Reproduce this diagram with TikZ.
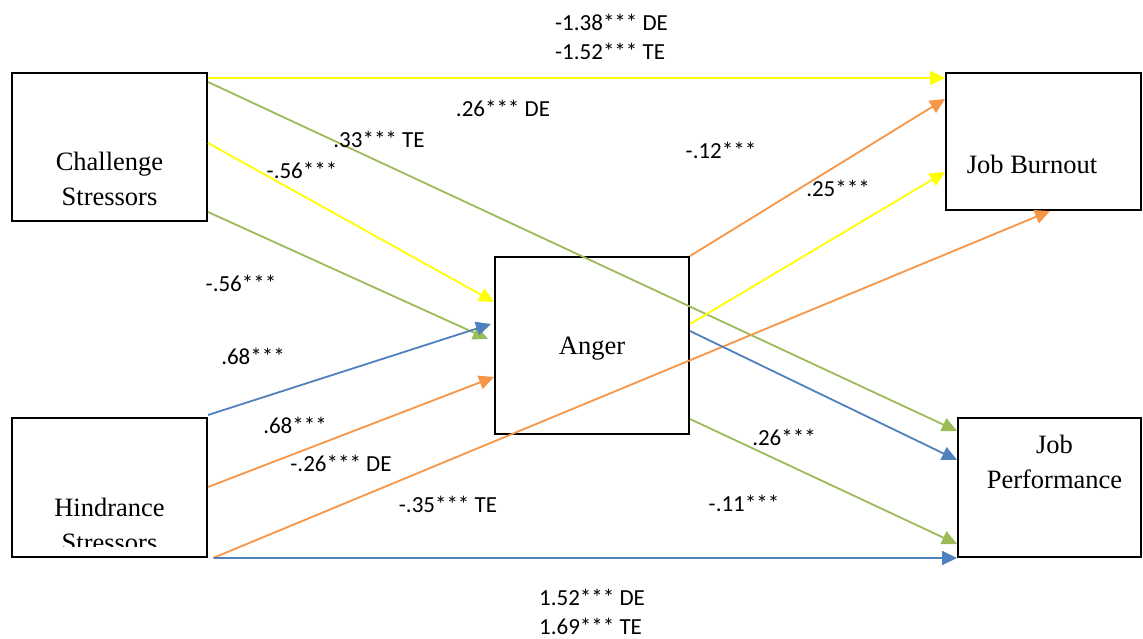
\documentclass[tikz,border=0pt]{standalone}
\usepackage{fontspec}
\setmainfont{Liberation Serif}
\newfontfamily\labfont{Carlito}
\usetikzlibrary{arrows.meta}
\definecolor{cyel}{HTML}{FFFF00}
\definecolor{cgrn}{HTML}{9BBB59}
\definecolor{corg}{HTML}{F79646}
\definecolor{cblu}{HTML}{4F81BD}
\begin{document}
\begin{tikzpicture}[x=1pt,y=-1pt,
  box/.style={draw=black, line width=2pt, rectangle, inner sep=0pt},
  boxtext/.style={font=\fontsize{26.5}{35}\selectfont, align=center, inner sep=0pt},
  lbl/.style={font=\labfont\fontsize{23}{29}\selectfont, inner sep=0pt, align=left},
  conn/.style={line width=1.8pt, -{Triangle[length=15pt,width=14pt]}},
]
\useasboundingbox (0,0) rectangle (1143,639);
\fill[white] (0,0) rectangle (1143,639);

% boxes
\node[box, minimum width=195pt, minimum height=148pt,
      label={[boxtext, yshift=-32pt, name=chal-t]center:{Challenge\\Stressors}}] (chal) at (109.5,147) {};
\node[box, minimum width=195pt, minimum height=139pt] (hind) at (109.5,487.5) {};
\begin{scope}
  \clip (hind.north west) rectangle ([yshift=12pt]hind.south east);
  \node[boxtext] (hind-t) at (109.5,524.5) {Hindrance\\Stressors};
\end{scope}
\node[box, minimum width=194pt, minimum height=177pt,
      label={[boxtext, yshift=-3.5pt, name=anger-t]center:{Anger}}] (anger) at (592,345.5) {};
\node[box, minimum width=195pt, minimum height=137pt,
      label={[boxtext, xshift=-11.5pt, yshift=-22.5pt, name=burn-t]center:{Job Burnout}}] (burn) at (1043.5,141.5) {};
\node[box, minimum width=183pt, minimum height=139pt,
      label={[boxtext, xshift=5pt, yshift=26pt, name=perf-t]center:{Job\\Performance}}] (perf) at (1049.5,487.5) {};

% connectors
\draw[conn, draw=cyel] ([yshift=-6pt]chal.north east) -- ([yshift=-6pt]burn.north west);
\draw[conn, draw=cgrn] ([yshift=-10pt]chal.north east) -- ([yshift=-14pt]perf.north west);
\draw[conn, draw=cyel] ([yshift=-71pt]chal.north east) -- ([yshift=-46pt]anger.north west);
\draw[conn, draw=cgrn] ([yshift=10pt]chal.south east) -- ([xshift=-6pt,yshift=-83pt]anger.north west);
\draw[conn, draw=cblu] ([yshift=2pt]hind.north east) -- ([xshift=-3pt,yshift=-68pt]anger.north west);
\draw[conn, draw=corg] ([yshift=-70pt]hind.north east) -- ([yshift=-121pt]anger.north west);
\draw[conn, draw=corg] ([xshift=5pt]hind.south east) -- ([xshift=105pt]burn.south west);
\draw[conn, draw=cblu] ([xshift=6pt]hind.south east) -- (perf.south west);
\draw[conn, draw=corg] (anger.north east) -- ([yshift=-27pt]burn.north west);
\draw[conn, draw=cyel] ([yshift=-68pt]anger.north east) -- ([yshift=-100pt]burn.north west);
\draw[conn, draw=cblu] ([yshift=-75pt]anger.north east) -- ([yshift=-43pt]perf.north west);
\draw[conn, draw=cgrn] ([yshift=16pt]anger.south east) -- ([yshift=14pt]perf.south west);

% labels
\node[lbl, anchor=west] (l1) at (555,36.5) {-1.38*** DE\\-1.52*** TE};
\node[lbl] (l2) at (503,108) {.26*** DE};
\node[lbl] (l3) at (379,139) {.33*** TE};
\node[lbl] (l4) at (302,170) {-.56***};
\node[lbl] (l5) at (721,150) {-.12***};
\node[lbl] (l6) at (838,188) {.25***};
\node[lbl] (l7) at (241,283) {-.56***};
\node[lbl] (l8) at (253,356) {.68***};
\node[lbl] (l9) at (295,425) {.68***};
\node[lbl] (l10) at (341,463) {-.26*** DE};
\node[lbl] (l11) at (448,504) {-.35*** TE};
\node[lbl] (l12) at (784,437) {.26***};
\node[lbl] (l13) at (744,503) {-.11***};
\node[lbl, anchor=west] (l14) at (539,612) {1.52*** DE\\1.69*** TE};
\end{tikzpicture}
\end{document}
